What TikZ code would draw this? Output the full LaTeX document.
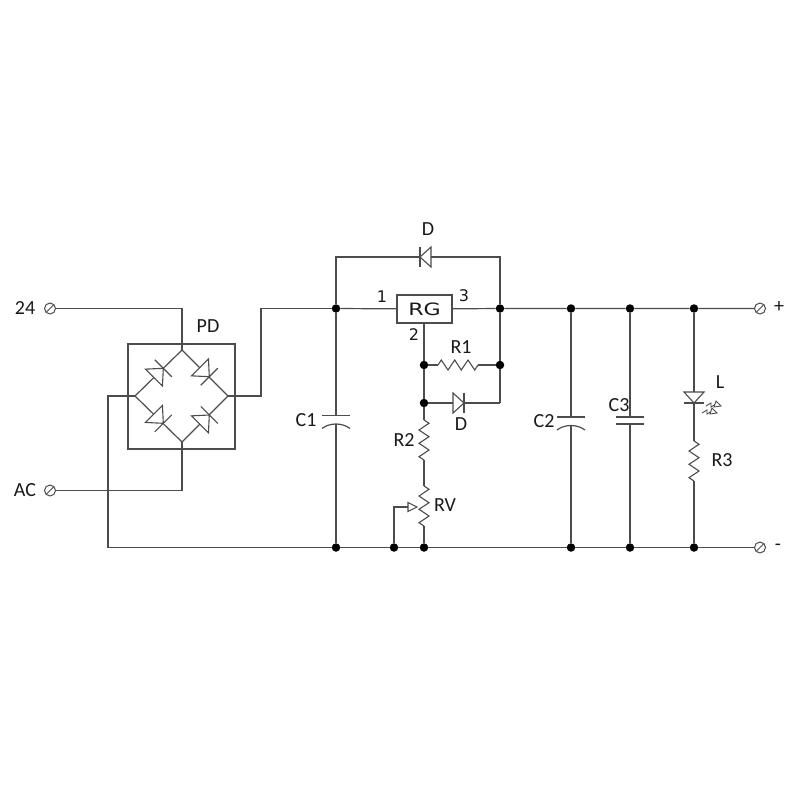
\documentclass[tikz,border=0pt]{standalone}
\usepackage{fontspec}
\setmainfont{Carlito}
\newfontfamily\chipfont{DejaVu Sans}
\usetikzlibrary{shapes.symbols}
\definecolor{wirecol}{gray}{0.3}
\tikzset{
  wire/.style={line width=1.2pt, color=wirecol},
  thinwire/.style={line width=1.1pt, color=wirecol},
  jdot/.style={circle, fill=black, inner sep=0pt, minimum size=8.5pt},
  term/.style={forbidden sign, draw=wirecol, line width=1pt, fill=white, inner sep=0pt, minimum size=11pt},
  lbl/.style={inner sep=0pt, font=\fontsize{20}{20}\selectfont, text=black!90},
  pinlbl/.style={inner sep=0pt, font=\chipfont\fontsize{16}{16}\selectfont, text=black!90},
  pics/diode/.style={code={
    \draw[thinwire, fill=white] (-11,-10) -- (-11,10) -- (0,0) -- cycle;
    \draw[thinwire] (0,-10) -- (0,10);
    \coordinate (-in) at (-11,0);
    \coordinate (-out) at (0,0);
  }},
  pics/resistor/.style={code={
    \draw[thinwire] (-20,0) -- (-16.7,-5) -- (-10,5) -- (-3.3,-5) -- (3.3,5) -- (10,-5) -- (16.7,5) -- (20,0);
    \coordinate (-in) at (-20,0);
    \coordinate (-out) at (20,0);
  }},
  pics/flatcap/.style={code={
    \draw[wire] (-14,-3.5) -- (14,-3.5);
    \draw[wire] (-14,3.5) -- (14,3.5);
    \coordinate (-in) at (0,-3.5);
    \coordinate (-out) at (0,3.5);
  }},
  pics/polcap/.style={code={
    \draw[wire] (-14,-4) -- (14,-4);
    \draw[wire] (-14,9) .. controls (-6,3) and (6,3) .. (14,9);
    \coordinate (-in) at (0,-4);
    \coordinate (-out) at (0,4.5);
  }},
  pics/glow/.style={code={
    \draw[line width=0.9pt, color=wirecol] (0,0) -- (5,-3) -- (5,1) -- (10,-2);
    \draw[line width=0.9pt, color=wirecol, fill=white] (10,-5) -- (15,0) -- (8,1) -- cycle;
  }},
}
\begin{document}
\begin{tikzpicture}[x=1pt, y=-1pt]
  \useasboundingbox (0,0) rectangle (800,800);

  % Terminals
  \node[term] (tf) at (50,308.5) {};
  \node[term] (ta) at (50,490.5) {};
  \node[term] (tp) at (760,308.5) {};
  \node[term] (tm) at (760,547.5) {};
  \node[lbl] (lf) at (25,308) {24};
  \node[lbl] (la) at (25,490) {AC};
  \node[lbl] (lp) at (779,307) {+};
  \node[lbl] (lm) at (778,547) {-};

  % Rail junctions
  \foreach \n/\x in {ja/336,jb/500,jc/571,jd/630,je/694}
    \node[jdot] (\n) at (\x,308.5) {};
  \foreach \n/\x in {ka/336,kb/394,kc/424,kd/571,ke/630,kf/694}
    \node[jdot] (\n) at (\x,547.5) {};
  \node[jdot] (jf) at (424,365) {};
  \node[jdot] (jg) at (500,365) {};
  \node[jdot] (jh) at (424,403) {};

  % Bridge
  \draw[wire] (128,344) rectangle (235,449);
  \coordinate (bt) at (182,350);
  \coordinate (bl) at (135,396);
  \coordinate (br) at (228,396);
  \coordinate (bb) at (182,442);
  \draw[wire] (bt) -- (bl) -- (bb) -- (br) -- cycle;
  \pic[rotate=45, scale=1.2] at (163.3,368.3) {diode};
  \pic[rotate=-45, scale=1.2] at (209.3,376.7) {diode};
  \pic[rotate=-45, scale=1.2] at (163.3,423.3) {diode};
  \pic[rotate=45, scale=1.2] at (209.3,415) {diode};
  \node[lbl] (pd) at (208,326) {PD};
  \draw[wire] (tf) -- (182,308.5) -- (bt);
  \draw[wire] (ta) -- (182,490.5) -- (bb);
  \draw[wire] (bl) -- (108,396) -- (108,547.5) -- (ka);
  \draw[wire] (br) -- (261,396) -- (261,308.5) -- (ja);

  % Regulator
  \node[draw=wirecol, line width=1.2pt, fill=white, minimum width=55pt, minimum height=28pt, inner sep=0pt] (rg) at (424.5,309) {};
  \node[inner sep=0pt, xscale=1.3, font=\chipfont\fontsize{17}{17}\selectfont, text=black!90] (rgt) at (424.5,309) {RG};
  \node[pinlbl] (lone) at (382,297) {1};
  \node[pinlbl] (ltwo) at (414,335) {2};
  \node[pinlbl] (lthree) at (464,296) {3};

  % Top rail
  \draw[wire] (ja) -- (rg);
  \draw[wire] (rg) -- (jb) -- (jc) -- (jd) -- (je) -- (tp);
  \draw[wire] (ka) -- (kb) -- (kc) -- (kd) -- (ke) -- (kf) -- (tm);

  % Bypass diode
  \pic (dtop) [rotate=180] at (420,257) {diode};
  \node[lbl] (ldtop) at (428,229) {D};
  \draw[wire] (ja) -- (336,257) -- (dtop-out);
  \draw[wire] (dtop-in) -- (500,257) -- (jb);
  \draw[wire] (jb) -- (jg) -- (500,403);

  % Adjust network
  \draw[wire] (rg.south -| jf) -- (jf) -- (jh);
  \pic (rone) at (458,365) {resistor};
  \node[lbl] (lrone) at (461,347) {R1};
  \draw[thinwire] (jf) -- (rone-in);
  \draw[thinwire] (rone-out) -- (jg);
  \pic (dlow) at (464,403) {diode};
  \node[lbl] (ldlow) at (461,424) {D};
  \draw[wire] (jh) -- (dlow-in);
  \draw[wire] (dlow-out) -- (500,403);
  \pic (rtwo) [rotate=-90] at (424,440) {resistor};
  \node[lbl] (lrtwo) at (404,440) {R2};
  \pic (rvar) [rotate=-90] at (424,506) {resistor};
  \node[lbl] (lrvar) at (445,505) {RV};
  \draw[thinwire] (jh) -- (rtwo-in);
  \draw[thinwire] (rtwo-out) -- (rvar-in);
  \draw[thinwire] (rvar-out) -- (kc);
  \draw[wire] (kb) -- (394,507) -- (408,507);
  \draw[thinwire, fill=white] (408,502.5) -- (417,507) -- (408,511.5) -- cycle;

  % Capacitors
  \pic (cone) at (336,419.5) {polcap};
  \node[lbl] (lcone) at (306,420) {C1};
  \draw[wire] (ja) -- (cone-in);
  \draw[wire] (cone-out) -- (ka);
  \pic (ctwo) at (571,421) {polcap};
  \node[lbl] (lctwo) at (544,421) {C2};
  \draw[wire] (jc) -- (ctwo-in);
  \draw[wire] (ctwo-out) -- (kd);
  \pic (cthree) at (630,420.5) {flatcap};
  \node[lbl] (lcthree) at (619,405) {C3};
  \draw[wire] (jd) -- (cthree-in);
  \draw[wire] (cthree-out) -- (ke);

  % LED branch
  \pic (led) [rotate=-90] at (694,403) {diode};
  \node[lbl] (lled) at (720,382) {L};
  \pic at (706,406) {glow};
  \pic at (702,413) {glow};
  \pic (rthree) [rotate=-90] at (694,461) {resistor};
  \node[lbl] (lrthree) at (722,460) {R3};
  \draw[wire] (je) -- (led-in);
  \draw[thinwire] (led-out) -- (rthree-in);
  \draw[thinwire] (rthree-out) -- (kf);
\end{tikzpicture}
\end{document}
